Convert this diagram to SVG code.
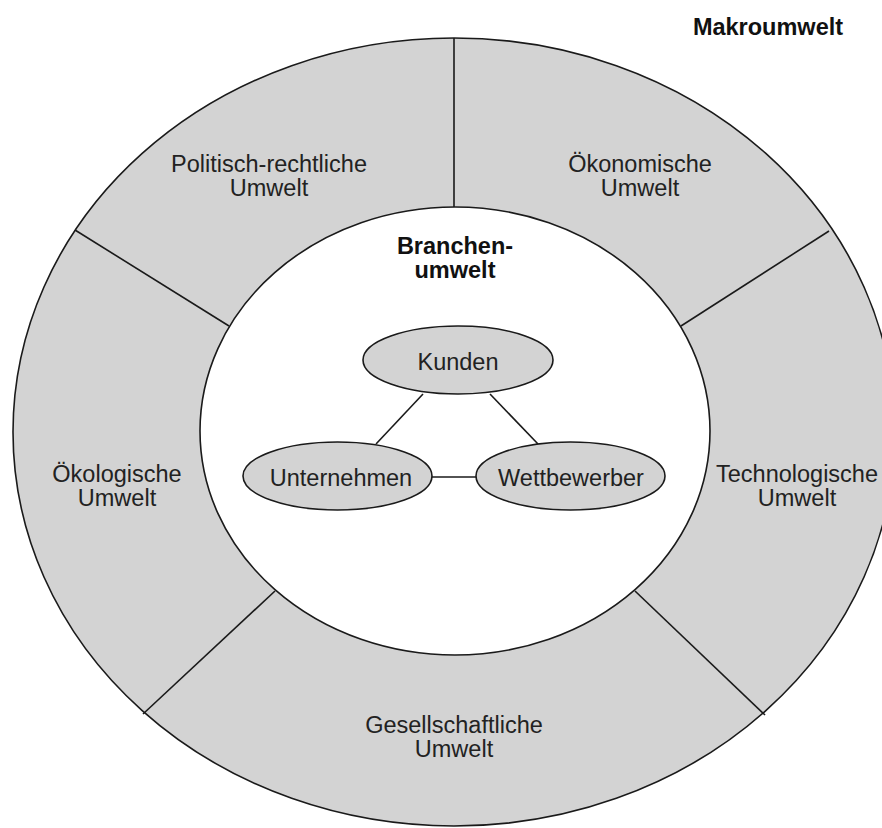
<svg xmlns="http://www.w3.org/2000/svg" width="882" height="828" viewBox="0 0 882 828">
  <style>
    .ring { fill: #d3d3d3; stroke: #1a1a1a; stroke-width: 1.6; }
    .inner { fill: #ffffff; stroke: #1a1a1a; stroke-width: 1.6; }
    .node { fill: #d3d3d3; stroke: #1a1a1a; stroke-width: 1.6; }
    .div { stroke: #1a1a1a; stroke-width: 1.6; fill: none; }
    .conn { stroke: #1a1a1a; stroke-width: 1.6; fill: none; }
    .t { font-family: "Liberation Sans", Arial, sans-serif; font-size: 23.5px; fill: #222222; text-anchor: middle; }
    .b { font-family: "Liberation Sans", Arial, sans-serif; font-size: 23.5px; font-weight: bold; fill: #111111; text-anchor: middle; }
  </style>
  <rect x="0" y="0" width="882" height="828" fill="#ffffff"/>

  <g id="makroumwelt">
    <ellipse class="ring" cx="454" cy="432" rx="441" ry="394"/>
    <text class="b" x="768" y="35">Makroumwelt</text>
  </g>

  <g id="segment-dividers">
    <line class="div" x1="454" y1="38" x2="454" y2="207"/>
    <line class="div" x1="75" y1="230" x2="229" y2="326"/>
    <line class="div" x1="829" y1="231" x2="681" y2="326"/>
    <line class="div" x1="143" y1="714" x2="275" y2="591"/>
    <line class="div" x1="765" y1="715" x2="635" y2="591"/>
  </g>

  <g id="politisch-rechtliche-umwelt">
    <text class="t" x="269" y="172">Politisch-rechtliche</text>
    <text class="t" x="269" y="196">Umwelt</text>
  </g>
  <g id="oekonomische-umwelt">
    <text class="t" x="640" y="172">Ökonomische</text>
    <text class="t" x="640" y="196">Umwelt</text>
  </g>
  <g id="oekologische-umwelt">
    <text class="t" x="117" y="482">Ökologische</text>
    <text class="t" x="117" y="506">Umwelt</text>
  </g>
  <g id="technologische-umwelt">
    <text class="t" x="797" y="482">Technologische</text>
    <text class="t" x="797" y="506">Umwelt</text>
  </g>
  <g id="gesellschaftliche-umwelt">
    <text class="t" x="454" y="733">Gesellschaftliche</text>
    <text class="t" x="454" y="757">Umwelt</text>
  </g>

  <g id="branchenumwelt">
    <ellipse class="inner" cx="455" cy="431" rx="255" ry="224"/>
    <text class="b" x="455" y="254">Branchen-</text>
    <text class="b" x="455" y="278">umwelt</text>
  </g>

  <g id="connectors">
    <line class="conn" x1="423" y1="394" x2="376" y2="444"/>
    <line class="conn" x1="490" y1="394" x2="538" y2="444"/>
    <line class="conn" x1="432" y1="477" x2="476" y2="477"/>
  </g>

  <g id="kunden">
    <ellipse class="node" cx="458" cy="360" rx="95" ry="34"/>
    <text class="t" x="458" y="370">Kunden</text>
  </g>
  <g id="unternehmen">
    <ellipse class="node" cx="337.5" cy="476" rx="94.5" ry="34"/>
    <text class="t" x="341" y="486">Unternehmen</text>
  </g>
  <g id="wettbewerber">
    <ellipse class="node" cx="570.5" cy="476" rx="94.5" ry="34"/>
    <text class="t" x="571" y="486">Wettbewerber</text>
  </g>
</svg>
